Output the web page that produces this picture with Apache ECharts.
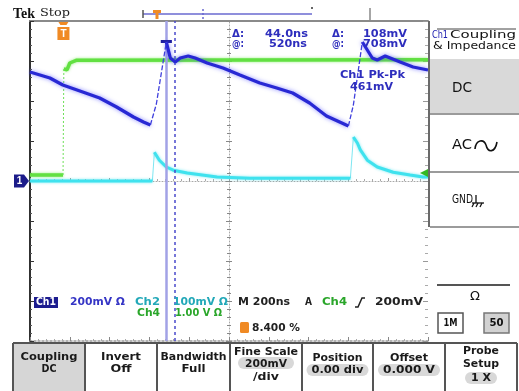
<!DOCTYPE html>
<html><head><meta charset="utf-8">
<script src="https://cdn.jsdelivr.net/npm/echarts/dist/echarts.min.js"></script>
<style>html,body{margin:0;padding:0;background:#fff;overflow:hidden}#c{width:519px;height:391px}</style>
</head><body><div id="c"></div>
<script>
// ---------- data ----------
const timePerDiv = 200;            // ns/div, 10 divisions
const ch1Scale = 200;              // mV/div
const ch2Scale = 100;              // mV/div
const ch4Scale = 1.0;              // V/div

const ch1Time = [0,100,165,265,350,435,520,570,605,635,685,705,730,755,795,830,890,970,1055,1155,1240,1320,1405,1490,1545,1600,1625,1670,1720,1745,1785,1860,1925,2000];
const ch1mV   = [545,515,480,445,415,370,320,295,280,385,695,615,595,615,625,615,590,565,530,490,465,440,390,325,300,275,380,695,615,605,625,595,570,555];
const ch1Edges = [[8,10],[25,27]];

const ch2Time = [0,615,625,650,685,720,790,940,1105,1610,1625,1645,1660,1695,1745,1825,1910,1975,2000];
const ch2mV   = [0,0,72,52,35,27,20,10,7,7,110,95,78,52,35,22,15,10,10];
const ch2Edges = [[1,2],[9,10]];

const ch4Time = [0,166,170,186,200,235,2000];
const ch4V    = [0.15,0.15,2.8,2.78,2.95,3.02,3.03];
const ch4Edges = [[1,2]];

const cursorA = 685, cursorB = 729;   // ns
const cursorLevel = 700;              // mV on Ch1
const triggerTime = 168;              // ns
const triggerLevel = 0.2;             // V on Ch4

// ---------- helpers ----------
function split(t, v, scale, edges){
  const thick = [], thin = [];
  const em = new Map(edges.map(e => [e[0], e[1]]));
  for (let i = 0; i < t.length; i++){
    thick.push([t[i], v[i]/scale]);
    if (em.has(i)){
      const end = em.get(i);
      for (let k = i; k <= end; k++) thin.push([t[k], v[k]/scale]);
      thin.push([t[end], '-']);
      thick.push([t[i], '-']);
      i = end - 1;
    }
  }
  return {thick, thin};
}
const c1 = split(ch1Time, ch1mV, ch1Scale, ch1Edges);
const c2 = split(ch2Time, ch2mV, ch2Scale, ch2Edges);
const c4 = split(ch4Time, ch4V, ch4Scale, ch4Edges);

const mctx = document.createElement('canvas').getContext('2d');
function T(x, y, text, o){
  o = o || {};
  const font = (o.weight||'normal') + ' ' + (o.size||11) + 'px ' + (o.family||'"DejaVu Sans"');
  mctx.font = font;
  const nat = mctx.measureText(text).width || 1;
  const sx = o.w ? o.w/nat : 1;
  const align = o.align || 'left';
  return {type:'text', x:x, y:y, scaleX:sx, z:120, silent:true,
    style:{text:text, font:font, fill:o.color||'#111', align:align, verticalAlign:'middle', textAlign:align, textVerticalAlign:'middle'}};
}
function L(x1,y1,x2,y2,stroke,lw,dash){
  return {type:'line', z:110, silent:true, shape:{x1,y1,x2,y2}, style:{stroke, lineWidth:lw||1, lineDash:dash||null}};
}
function R(x,y,w,h,fill,stroke,lw,r){
  return {type:'rect', z:100, silent:true, shape:{x,y,width:w,height:h,r:r||0}, style:{fill:fill||'none', stroke:stroke||'none', lineWidth:lw||1}};
}

const blueTxt = '#2e2ebd';
const g = [];
// top status
g.push(T(13,14,'Tek',{size:15,weight:'bold',family:'"Liberation Serif"',w:22,color:'#111'}));
g.push(T(40,13,'Stop',{size:11,family:'"DejaVu Serif"',w:30,color:'#222'}));
// record bar
g.push(L(143,14,312,14,'#6a6ad0',1.5));
g.push(L(143,10,143,18,'#555',1.5));
g.push(L(203,9,203,20,'#6a6ad0',1.5,[2,2]));
g.push({type:'polygon', z:115, silent:true, shape:{points:[[153,10],[161,10],[161,13],[158.5,13],[158.5,19],[155.5,19],[155.5,13],[153,13]]}, style:{fill:'#f08a24'}});
g.push({type:'circle', z:115, silent:true, shape:{cx:312,cy:8,r:1}, style:{fill:'#333'}});
g.push(L(370,8,370,21,'#888',1.5));

// in-plot readouts
g.push(T(232,34,'Δ:',{weight:'bold',size:11,color:blueTxt,w:12}));
g.push(T(308,34,'44.0ns',{weight:'bold',size:11,color:blueTxt,w:43,align:'right'}));
g.push(T(232,44,'@:',{weight:'bold',size:11,color:blueTxt,w:12}));
g.push(T(307,44,'520ns',{weight:'bold',size:11,color:blueTxt,w:38,align:'right'}));
g.push(T(332,34,'Δ:',{weight:'bold',size:11,color:blueTxt,w:12}));
g.push(T(407,34,'108mV',{weight:'bold',size:11,color:blueTxt,w:44,align:'right'}));
g.push(T(332,44,'@:',{weight:'bold',size:11,color:blueTxt,w:12}));
g.push(T(407,44,'708mV',{weight:'bold',size:11,color:blueTxt,w:44,align:'right'}));
g.push(T(340,75,'Ch1 Pk-Pk',{weight:'bold',size:11,color:blueTxt,w:65}));
g.push(T(350,87,'461mV',{weight:'bold',size:11,color:blueTxt,w:43}));

// bottom readouts
g.push(R(34,297,24,11,'#1d1d8f'));
g.push(T(46,302.5,'Ch1',{weight:'bold',size:10,color:'#fff',w:20,align:'center'}));
g.push(T(70,302,'200mV Ω',{weight:'bold',size:10.5,color:'#3535c5',w:55}));
g.push(T(135,302,'Ch2',{weight:'bold',size:10.5,color:'#22a8b8',w:25}));
g.push(T(173,302,'100mV Ω',{weight:'bold',size:10.5,color:'#22a8b8',w:55}));
g.push(T(137,313,'Ch4',{weight:'bold',size:10.5,color:'#2aa62a',w:23}));
g.push(T(175,313,'1.00 V Ω',{weight:'bold',size:10.5,color:'#2aa62a',w:47}));
g.push(T(238,302,'M 200ns',{weight:'bold',size:10.5,color:'#222',w:52}));
g.push(T(305,302,'A',{weight:'bold',size:10.5,color:'#222',w:7}));
g.push(T(322,302,'Ch4',{weight:'bold',size:10.5,color:'#2aa62a',w:25}));
g.push({type:'polyline', z:115, silent:true, shape:{points:[[355,307],[358,307],[362,298],[365,298]]}, style:{stroke:'#222',lineWidth:1.5,fill:'none'}});
g.push(T(375,302,'200mV',{weight:'bold',size:10.5,color:'#222',w:48}));
g.push(R(240,322,9,11,'#f08a24',null,1,1.5));
g.push(T(252,328,'8.400 %',{weight:'bold',size:10.5,color:'#222',w:48}));

// right menu panel
g.push(L(429,21,429,227,'#6a6a6a',2));
g.push(L(437,29,516,29,'#444',1));
g.push(T(432,35,'Ch1',{size:11,color:'#2020b0',w:16}));
g.push(T(450,35,'Coupling',{size:11,color:'#111',w:66}));
g.push(T(433,46,'& Impedance',{size:11,color:'#111',w:83}));
g.push(R(430,59,89,54,'#d9d9d9'));
g.push(L(430,114,519,114,'#7a7a7a',1.5));
g.push(L(430,172,519,172,'#7a7a7a',1.5));
g.push(L(430,227,519,227,'#7a7a7a',1.5));
g.push(T(452,88,'DC',{size:14,color:'#111',w:20}));
g.push(T(452,145,'AC',{size:14,color:'#111',w:20}));
g.push({type:'bezierCurve', z:115, silent:true, shape:{x1:475,y1:149,cpx1:476,cpy1:139,cpx2:484,cpy2:139,x2:486,y2:145}, style:{stroke:'#111',lineWidth:1.6,fill:'none'}});
g.push({type:'bezierCurve', z:115, silent:true, shape:{x1:486,y1:145,cpx1:488,cpy1:153,cpx2:495,cpy2:153,x2:497,y2:142}, style:{stroke:'#111',lineWidth:1.6,fill:'none'}});
g.push(T(452,200,'GND',{size:13,color:'#111',w:21}));
g.push(L(476,195,476,203,'#111',1.3));
g.push(L(472,203,484,203,'#111',1.3));
g.push(L(474,203,472,207,'#111',1.2));
g.push(L(478,203,476,207,'#111',1.2));
g.push(L(482,203,480,207,'#111',1.2));
g.push(L(437,285,510,285,'#555',1.8));
g.push(T(475,297,'Ω',{size:13,color:'#111',align:'center'}));
g.push(R(438,313,25,20,'#fff','#555',1.5));
g.push(T(450.5,323,'1M',{size:11,weight:'bold',color:'#111',align:'center',w:14}));
g.push(R(484,313,25,20,'#d2d2d2','#777',1.5));
g.push(T(496.5,323,'50',{size:11,weight:'bold',color:'#111',align:'center',w:14}));

// bottom buttons
const btnX = [13,85,157,230,302,373,445,517];
g.push(R(13,343,72,48,'#d6d6d6'));
g.push(L(13,343,517,343,'#555',2));
btnX.forEach(x => g.push(L(x,343,x,391,'#555',2)));
const pill = (cx,cy,w) => R(cx-w/2,cy-6,w,12,'#d8d8d8',null,1,6);
g.push(pill(266,363,56));
g.push(pill(337.5,370,62));
g.push(pill(409,370,62));
g.push(pill(481,378,32));
const bt = (cx,cy,txt,w) => g.push(T(cx,cy,txt,{size:11,weight:'bold',color:'#1a1a1a',align:'center',w:w}));
bt(49,357,'Coupling',57); bt(49,369,'DC',15);
bt(121,357,'Invert',40); bt(121,369,'Off',21);
bt(193.5,357,'Bandwidth',66); bt(193.5,369,'Full',24);
bt(266,352,'Fine Scale',64); bt(266,364,'200mV',42); bt(266,377,'/div',26);
bt(337.5,358,'Position',50); bt(337.5,370,'0.00 div',52);
bt(409,358,'Offset',38); bt(409,370,'0.000 V',52);
bt(481,351,'Probe',36); bt(481,364,'Setup',36); bt(481,378,'1 X',20);

// ---------- chart ----------
const chart = echarts.init(document.getElementById('c'), null, {renderer:'canvas'});
const noLab = {axisLabel:{show:false}, splitLine:{show:false}};
const option = {
  animation:false,
  backgroundColor:'#ffffff',
  grid:{left:30, top:21, width:398, height:320},
  xAxis:[
    Object.assign({type:'value', min:0, max:timePerDiv*10, interval:timePerDiv, position:'bottom',
      axisLine:{show:true, onZero:true, onZeroAxisIndex:0, lineStyle:{color:'#a8a8a8', width:1, type:[1,2]}},
      axisTick:{show:true, inside:true, length:3, lineStyle:{color:'#999'}},
      minorTick:{show:true, splitNumber:5, length:2, lineStyle:{color:'#aaa'}}}, noLab),
    Object.assign({type:'value', min:0, max:timePerDiv*10, position:'top',
      axisLine:{show:true, onZero:false, lineStyle:{color:'#8a8a8a', width:2}},
      axisTick:{show:false}}, noLab),
    Object.assign({type:'value', min:0, max:timePerDiv*10, interval:timePerDiv, position:'bottom',
      axisLine:{show:true, onZero:false, lineStyle:{color:'#9a9a9a', width:1.5, type:[2,2]}},
      axisTick:{show:true, inside:true, length:4, lineStyle:{color:'#888'}},
      minorTick:{show:true, splitNumber:5, length:2, lineStyle:{color:'#aaa'}}}, noLab),
    {type:'value', min:-timePerDiv*5, max:timePerDiv*5, show:false}
  ],
  yAxis:[
    Object.assign({type:'value', min:-4, max:4, interval:1, position:'left',
      axisLine:{show:true, onZero:false, lineStyle:{color:'#303030', width:2}},
      axisTick:{show:true, inside:true, length:4, lineStyle:{color:'#333'}},
      minorTick:{show:true, splitNumber:5, length:2, lineStyle:{color:'#555'}}}, noLab),
    Object.assign({type:'value', min:-4, max:4, interval:1, position:'right',
      axisLine:{show:false, onZero:false},
      axisTick:{show:true, inside:true, length:5, lineStyle:{color:'#999'}},
      minorTick:{show:true, splitNumber:5, length:3, lineStyle:{color:'#aaa'}}}, noLab),
    Object.assign({type:'value', min:-4, max:4, interval:1, position:'left',
      axisLine:{show:true, onZero:true, onZeroAxisIndex:3, lineStyle:{color:'#a8a8a8', width:1, type:[1,2]}},
      axisTick:{show:true, inside:true, length:3, lineStyle:{color:'#888'}},
      minorTick:{show:true, splitNumber:5, length:2, lineStyle:{color:'#888'}}}, noLab),
    Object.assign({type:'value', min:-4, max:4, interval:1, position:'left',
      axisLine:{show:false, onZero:true, onZeroAxisIndex:3},
      axisTick:{show:true, inside:false, length:3, lineStyle:{color:'#888'}},
      minorTick:{show:true, splitNumber:5, length:2, lineStyle:{color:'#888'}}}, noLab)
  ],
  series:[
    {name:'Ch4', type:'line', data:c4.thick, symbol:'none', z:3,
     lineStyle:{color:'#62e042', width:3.5, shadowBlur:3, shadowColor:'rgba(120,235,90,0.8)'},
     markPoint:{silent:true, animation:false, data:[
       {coord:[triggerTime, 4], symbol:'path://M1,0 L11,0 L9,3 L3,3 Z M0,5 L12,5 L12,18 L0,18 Z', symbolSize:[12,18], symbolOffset:[0,10],
        itemStyle:{color:'#f08a24'}, label:{show:true, formatter:'T', color:'#fff', fontWeight:'bold', fontSize:10, offset:[0,3]}},
       {coord:[timePerDiv*10, triggerLevel/ch4Scale], symbol:'triangle', symbolRotate:90, symbolSize:[8,8], symbolOffset:[-4,0],
        itemStyle:{color:'#33b822'}, label:{show:false}}
     ]}},
    {name:'Ch4 edge', type:'line', data:c4.thin, symbol:'none', z:3,
     lineStyle:{color:'#6fe05a', width:1, type:[2,2]}},
    {name:'Ch2', type:'line', data:c2.thick, symbol:'none', z:4,
     lineStyle:{color:'#3fe2ee', width:3, shadowBlur:3, shadowColor:'rgba(90,230,240,0.8)'}},
    {name:'Ch2 edge', type:'line', data:c2.thin, symbol:'none', z:4,
     lineStyle:{color:'rgba(70,220,235,0.7)', width:1}},
    {name:'Ch1', type:'line', data:c1.thick, symbol:'none', z:6,
     lineStyle:{color:'#2828d4', width:3.2, shadowBlur:4, shadowColor:'rgba(90,90,255,0.7)'},
     markLine:{silent:true, symbol:'none', animation:false, label:{show:false}, data:[
       {xAxis:cursorA, lineStyle:{color:'#a2a2e6', width:2.5, type:'solid'}},
       {xAxis:cursorB, lineStyle:{color:'#4a4acb', width:1.5, type:[3,3]}},
       [{coord:[cursorA-28, cursorLevel/ch1Scale], lineStyle:{color:'#1c1c9c', width:3, type:'solid'}},
        {coord:[cursorA+28, cursorLevel/ch1Scale]}]
     ]},
     markPoint:{silent:true, animation:false, data:[
       {coord:[0,0], symbol:'path://M0,0 L10,0 L15,6.5 L10,13 L0,13 Z', symbolSize:[15,13], symbolOffset:[-8.5,0],
        itemStyle:{color:'#1c1c8a'}, label:{show:true, formatter:'1', color:'#fff', fontWeight:'bold', fontSize:10, offset:[-2,0]}}
     ]}},
    {name:'Ch1 edge', type:'line', data:c1.thin, symbol:'none', z:6,
     lineStyle:{color:'#4040dd', width:1.3, type:[5,2]}}
  ],
  graphic:{elements:g}
};
chart.setOption(option);
</script></body></html>
